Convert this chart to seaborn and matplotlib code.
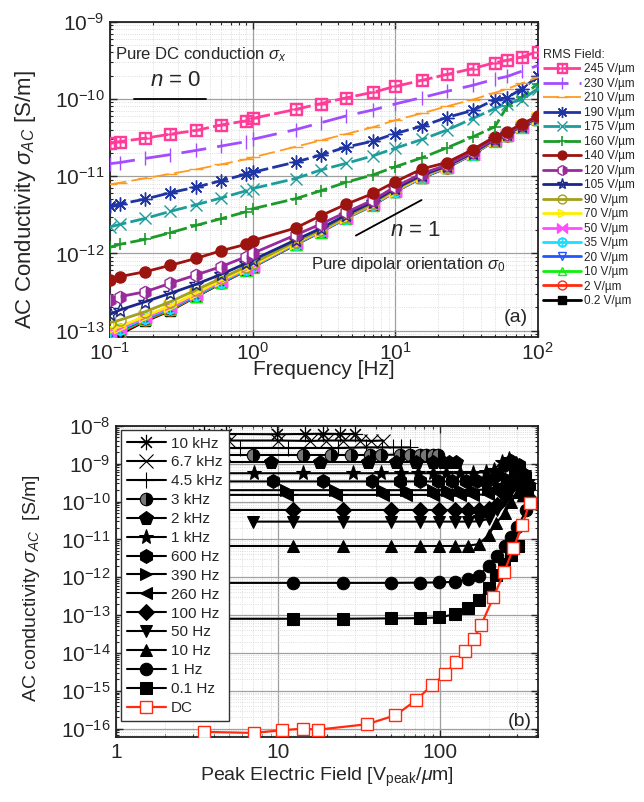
import matplotlib
matplotlib.use("Agg")
import matplotlib.pyplot as plt
import matplotlib.ticker as mticker
import seaborn as sns

sns.set_style("ticks")
plt.rcParams['font.family'] = ['Liberation Sans', 'DejaVu Sans']
plt.rcParams['mathtext.fontset'] = 'custom'
plt.rcParams['mathtext.rm'] = 'Liberation Sans'
plt.rcParams['mathtext.it'] = 'Liberation Sans:italic'
plt.rcParams['mathtext.bf'] = 'Liberation Sans:bold'

# ---------------- panel (a) data: conductivity vs frequency ----------------
freq_hz = [0.1, 0.117, 0.177, 0.265, 0.4, 0.6, 0.9, 1.0, 2.0, 3.0, 4.5, 7.0, 10.0,
           15.4, 23.0, 35.0, 50.0, 61.0, 78.0, 100.0]
rms_labels = ["245 V/\u00b5m", "230 V/\u00b5m", "210 V/\u00b5m", "190 V/\u00b5m", "175 V/\u00b5m",
              "160 V/\u00b5m", "140 V/\u00b5m", "120 V/\u00b5m", "105 V/\u00b5m", "90 V/\u00b5m",
              "70 V/\u00b5m", "50 V/\u00b5m", "35 V/\u00b5m", "20 V/\u00b5m", "10 V/\u00b5m",
              "2 V/\u00b5m", "0.2 V/\u00b5m"]
sig_245 = [2.7e-11, 2.8e-11, 3.1e-11, 3.5e-11, 3.9e-11, 4.6e-11, 5.2e-11, 5.6e-11, 7.3e-11, 8.7e-11,
           1.03e-10, 1.22e-10, 1.45e-10, 1.74e-10, 2.07e-10, 2.47e-10, 2.95e-10, 3.16e-10, 3.5e-10, 4.1e-10]
sig_230 = [1.45e-11, 1.5e-11, 1.7e-11, 1.9e-11, 2.15e-11, 2.45e-11, 2.8e-11, 3.0e-11, 4.0e-11, 4.9e-11,
           6.0e-11, 7.2e-11, 8.6e-11, 1.04e-10, 1.25e-10, 1.5e-10, 1.8e-10, 1.95e-10, 2.3e-10, 2.7e-10]
sig_210 = [7.8e-12, 8.2e-12, 9.4e-12, 1.07e-11, 1.22e-11, 1.42e-11, 1.65e-11, 1.75e-11, 2.4e-11, 2.9e-11,
           3.5e-11, 4.3e-11, 5.3e-11, 6.5e-11, 8.0e-11, 9.8e-11, 1.2e-10, 1.35e-10, 1.6e-10, 1.9e-10]
sig_190 = [4.1e-12, 4.35e-12, 5.05e-12, 6.1e-12, 7.2e-12, 8.7e-12, 1.06e-11, 1.12e-11, 1.52e-11, 1.87e-11,
           2.37e-11, 2.84e-11, 3.56e-11, 4.43e-11, 5.74e-11, 7.1e-11, 9.8e-11, 1.04e-10, 1.36e-10, 1.96e-10]
sig_175 = [2.2e-12, 2.37e-12, 2.84e-12, 3.5e-12, 4.26e-12, 5.2e-12, 6.46e-12, 6.9e-12, 9.3e-12, 1.2e-11,
           1.46e-11, 1.83e-11, 2.3e-11, 2.98e-11, 3.94e-11, 5.57e-11, 7.5e-11, 8.7e-11, 9.8e-11, 1.36e-10]
sig_160 = [1.2e-12, 1.31e-12, 1.52e-12, 1.85e-12, 2.3e-12, 2.81e-12, 3.46e-12, 3.78e-12, 5.1e-12, 6.46e-12,
           8.3e-12, 1.04e-11, 1.32e-11, 1.73e-11, 2.32e-11, 3.23e-11, 4.35e-11, 8.0e-11, 1.06e-10, 1.58e-10]
sig_140 = [4.5e-13, 5.0e-13, 5.8e-13, 7.0e-13, 8.6e-13, 1.08e-12, 1.31e-12, 1.46e-12, 2.13e-12, 3.07e-12,
           4.3e-12, 5.97e-12, 8.45e-12, 1.24e-11, 1.5e-11, 2.21e-11, 3.23e-11, 3.74e-11, 4.8e-11, 5.97e-11]
sig_120 = [2.5e-13, 2.75e-13, 3.19e-13, 4.1e-13, 5.25e-13, 6.73e-13, 9.06e-13, 1.0e-12, 1.73e-12, 2.39e-12,
           3.39e-12, 4.9e-12, 7.3e-12, 1.08e-11, 1.39e-11, 2.06e-11, 3.07e-11, 3.56e-11, 4.57e-11, 5.85e-11]
sig_105 = [1.63e-13, 1.85e-13, 2.37e-13, 3.04e-13, 3.97e-13, 5.35e-13, 7.43e-13, 8.2e-13, 1.49e-12, 2.1e-12,
           3.13e-12, 4.66e-12, 6.93e-12, 1.03e-11, 1.35e-11, 2.0e-11, 3.0e-11, 3.5e-11, 4.5e-11, 5.7e-11]
sig_90 = [1.27e-13, 1.37e-13, 1.76e-13, 2.37e-13, 3.36e-13, 4.75e-13, 6.73e-13, 7.43e-13, 1.42e-12, 2.0e-12,
          2.98e-12, 4.43e-12, 6.73e-12, 1.01e-11, 1.33e-11, 1.97e-11, 2.95e-11, 3.45e-11, 4.45e-11, 5.6e-11]
sig_70 = [1.05e-13, 1.12e-13, 1.55e-13, 2.1e-13, 3.05e-13, 4.5e-13, 6.4e-13, 7.0e-13, 1.38e-12, 1.97e-12,
          2.93e-12, 4.4e-12, 6.5e-12, 9.9e-12, 1.33e-11, 1.97e-11, 2.93e-11, 3.42e-11, 4.4e-11, 5.6e-11]
sig_50 = [9.8e-14, 1.07e-13, 1.5e-13, 2.0e-13, 2.95e-13, 4.4e-13, 6.3e-13, 6.9e-13, 1.36e-12, 1.95e-12,
          2.9e-12, 4.35e-12, 6.45e-12, 9.8e-12, 1.32e-11, 1.96e-11, 2.92e-11, 3.4e-11, 4.35e-11, 5.55e-11]
sig_35 = [9.4e-14, 1.04e-13, 1.46e-13, 1.97e-13, 2.9e-13, 4.3e-13, 6.2e-13, 6.85e-13, 1.34e-12, 1.93e-12,
          2.88e-12, 4.3e-12, 6.4e-12, 9.7e-12, 1.31e-11, 1.95e-11, 2.9e-11, 3.38e-11, 4.33e-11, 5.55e-11]
sig_20 = [9.0e-14, 1.0e-13, 1.42e-13, 1.93e-13, 2.85e-13, 4.25e-13, 6.15e-13, 6.8e-13, 1.33e-12, 1.92e-12,
          2.87e-12, 4.3e-12, 6.4e-12, 9.7e-12, 1.3e-11, 1.95e-11, 2.9e-11, 3.37e-11, 4.32e-11, 5.5e-11]
sig_10 = [8.7e-14, 9.7e-14, 1.4e-13, 1.9e-13, 2.82e-13, 4.2e-13, 6.1e-13, 6.75e-13, 1.32e-12, 1.91e-12,
          2.85e-12, 4.28e-12, 6.38e-12, 9.65e-12, 1.3e-11, 1.94e-11, 2.88e-11, 3.36e-11, 4.3e-11, 5.5e-11]
sig_2 = [8.4e-14, 9.4e-14, 1.36e-13, 1.85e-13, 2.78e-13, 4.15e-13, 6.05e-13, 6.7e-13, 1.31e-12, 1.9e-12,
         2.84e-12, 4.25e-12, 6.35e-12, 9.6e-12, 1.29e-11, 1.93e-11, 2.87e-11, 3.35e-11, 4.3e-11, 5.45e-11]
sig_02 = [8.0e-14, 9.0e-14, 1.33e-13, 1.82e-13, 2.75e-13, 4.1e-13, 6.0e-13, 6.65e-13, 1.3e-12, 1.89e-12,
          2.83e-12, 4.22e-12, 6.3e-12, 9.55e-12, 1.28e-11, 1.92e-11, 2.86e-11, 3.33e-11, 4.28e-11, 5.4e-11]
sigma_a = [sig_245, sig_230, sig_210, sig_190, sig_175, sig_160, sig_140, sig_120, sig_105,
           sig_90, sig_70, sig_50, sig_35, sig_20, sig_10, sig_2, sig_02]

# guide lines for slopes n=0 and n=1
n0_f = [0.147, 0.47]
n0_s = [1e-10, 1e-10]
n1_f = [5.3, 15.3]
n1_s = [1.7e-12, 4.9e-12]

# ---------------- panel (b) data: conductivity vs peak field ----------------
ac_labels = ["10 kHz", "6.7 kHz", "4.5 kHz", "3 kHz", "2 kHz", "1 kHz", "600 Hz", "390 Hz",
             "260 Hz", "100 Hz", "50 Hz", "10 Hz", "1 Hz", "0.1 Hz"]
e_10k = [3.5, 4.8, 9.8, 14.6, 18.9, 24.0, 29.7]
s_10k = [6.1e-9, 6.1e-9, 6.0e-9, 6.1e-9, 6.2e-9, 6.1e-9, 6.1e-9]
e_6k7 = [3.5, 5.0, 10.0, 15.7, 19.9, 25.1, 31.9, 37.6, 44.4]
s_6k7 = [4.1e-9, 4.1e-9, 4.1e-9, 4.0e-9, 4.1e-9, 4.1e-9, 4.1e-9, 4.0e-9, 4.1e-9]
e_4k5 = [3.5, 5.8, 11.6, 23.4, 35.0, 44.0, 51.0, 57.6, 64.8]
s_4k5 = [2.6e-9, 2.6e-9, 2.6e-9, 2.6e-9, 2.7e-9, 2.7e-9, 2.7e-9, 2.7e-9, 2.7e-9]
e_3k = [3.5, 7.0, 14.3, 21.3, 28.3, 36.7, 43.3, 56.2, 64.8, 74.7, 82.0, 90.0, 97.0]
s_3k = [1.7e-9, 1.7e-9, 1.7e-9, 1.7e-9, 1.7e-9, 1.7e-9, 1.7e-9, 1.75e-9, 1.75e-9, 1.75e-9,
        1.75e-9, 1.75e-9, 1.75e-9]
e_2k = [4.6, 9.1, 18.1, 35.9, 53.6, 71.2, 90.0, 104.0, 114.0, 126.0]
s_2k = [1.1e-9, 1.1e-9, 1.1e-9, 1.1e-9, 1.1e-9, 1.1e-9, 1.1e-9, 1.1e-9, 1.1e-9, 1.1e-9]
e_1k = [3.5, 7.1, 14.3, 29.0, 43.4, 57.6, 73.0, 90.0, 109.0, 132.0, 159.0, 192.0, 215.0, 240.0,
        265.0, 295.0, 330.0, 350.0]
s_1k = [5.6e-10, 5.6e-10, 5.6e-10, 5.6e-10, 5.6e-10, 5.6e-10, 5.6e-10, 5.6e-10, 5.6e-10, 5.6e-10,
        5.7e-10, 6.0e-10, 7.0e-10, 1.1e-9, 1.3e-9, 1.0e-9, 6.0e-10, 3.5e-10]
e_600 = [3.5, 9.3, 18.9, 37.9, 56.2, 74.7, 96.8, 119.0, 145.0, 170.0, 200.0, 225.0, 250.0, 275.0,
         305.0, 335.0, 355.0]
s_600 = [3.4e-10, 3.4e-10, 3.4e-10, 3.4e-10, 3.4e-10, 3.4e-10, 3.4e-10, 3.4e-10, 3.4e-10, 3.5e-10,
         3.7e-10, 5.0e-10, 9.0e-10, 1.2e-9, 9.0e-10, 5.0e-10, 2.5e-10]
e_390 = [3.5, 11.2, 22.5, 44.0, 62.0, 90.0, 111.0, 132.0, 159.0, 197.0, 230.0, 260.0, 290.0,
         320.0, 345.0]
s_390 = [2.0e-10, 2.0e-10, 2.0e-10, 2.0e-10, 2.0e-10, 2.0e-10, 2.0e-10, 2.0e-10, 2.0e-10, 2.1e-10,
         2.6e-10, 4.5e-10, 6.0e-10, 5.0e-10, 2.5e-10]
e_260 = [3.5, 11.3, 22.9, 44.4, 61.8, 90.2, 111.0, 132.0, 159.0, 197.0, 225.0, 255.0, 285.0,
         315.0, 345.0]
s_260 = [1.5e-10, 1.5e-10, 1.5e-10, 1.5e-10, 1.5e-10, 1.5e-10, 1.5e-10, 1.5e-10, 1.5e-10, 1.55e-10,
         1.8e-10, 3.0e-10, 4.0e-10, 3.5e-10, 2.0e-10]
e_100 = [3.5, 12.4, 25.0, 50.0, 75.0, 99.0, 124.0, 148.0, 173.0, 199.0, 225.0, 250.0, 275.0,
         300.0, 330.0, 350.0]
s_100 = [6.0e-11, 6.0e-11, 6.0e-11, 6.0e-11, 6.0e-11, 6.0e-11, 6.0e-11, 6.0e-11, 6.1e-11, 6.3e-11,
         8.0e-11, 1.5e-10, 2.5e-10, 3.0e-10, 2.5e-10, 1.3e-10]
e_50 = [7.0, 12.4, 25.0, 50.0, 75.0, 99.0, 124.0, 148.0, 173.0, 199.0, 224.0, 250.0, 275.0,
        300.0, 330.0]
s_50 = [2.95e-11, 2.95e-11, 2.95e-11, 2.95e-11, 2.95e-11, 2.95e-11, 2.95e-11, 2.95e-11, 3.0e-11,
        3.5e-11, 6.0e-11, 1.1e-10, 2.0e-10, 2.8e-10, 2.5e-10]
e_10 = [3.5, 12.4, 25.0, 50.0, 75.0, 99.0, 124.0, 148.0, 173.0, 199.0, 221.0, 250.0, 274.0, 304.0, 325.0]
s_10 = [6.7e-12, 6.7e-12, 6.7e-12, 6.7e-12, 6.7e-12, 6.7e-12, 6.7e-12, 6.8e-12, 7.5e-12, 1.3e-11,
        2.7e-11, 4.9e-11, 1.0e-10, 1.8e-10, 1.5e-10]
e_1 = [3.5, 12.4, 25.0, 50.0, 75.0, 99.0, 124.0, 148.0, 173.0, 199.0, 224.0, 250.0, 275.0, 300.0, 340.0]
s_1 = [7.1e-13, 7.1e-13, 7.1e-13, 7.1e-13, 7.2e-13, 7.3e-13, 7.6e-13, 8.8e-13, 1.1e-12, 2.0e-12,
       3.6e-12, 6.5e-12, 1.15e-11, 2.1e-11, 6.0e-11]
e_01 = [3.5, 12.4, 25.0, 50.0, 75.0, 99.0, 124.0, 148.0, 173.0, 199.0, 221.0, 247.0, 274.0, 304.0]
s_01 = [8.0e-14, 8.0e-14, 8.0e-14, 8.2e-14, 8.3e-14, 8.7e-14, 1.06e-13, 1.5e-13, 2.44e-13, 5.3e-13,
        1.12e-12, 2.23e-12, 3.87e-12, 6.7e-12]
e_dc = [3.5, 7.1, 10.6, 14.3, 17.7, 35.5, 53.0, 71.0, 89.0, 107.0, 125.0, 143.0, 161.0, 179.0,
        213.0, 249.0, 283.0, 322.0, 356.0]
s_dc = [8.2e-17, 7.7e-17, 9.1e-17, 1.0e-16, 9.4e-17, 1.31e-16, 2.26e-16, 5.6e-16, 1.41e-15, 2.75e-15,
        5.7e-15, 1.14e-14, 2.37e-14, 5.5e-14, 2.93e-13, 1.4e-12, 6.0e-12, 2.36e-11, 9.4e-11]
ac_field = [e_10k, e_6k7, e_4k5, e_3k, e_2k, e_1k, e_600, e_390, e_260, e_100, e_50, e_10, e_1, e_01]
ac_sigma = [s_10k, s_6k7, s_4k5, s_3k, s_2k, s_1k, s_600, s_390, s_260, s_100, s_50, s_10, s_1, s_01]

# tick positions shown on each axis
xticks_a = [0.1, 1, 10, 100]
yticks_a = [1e-13, 1e-12, 1e-11, 1e-10, 1e-9]
xticks_b = [1, 10, 100]
yticks_b = [1e-16, 1e-15, 1e-14, 1e-13, 1e-12, 1e-11, 1e-10, 1e-9, 1e-8]

# ---------------- styles ----------------
dash = (0, (6, 1.5))
style_a = [
    dict(color="#ff3d99", marker="$\\boxplus$", ms=9, ls=dash),
    dict(color="#a24dff", marker="|", ms=10, ls=(0, (9, 4))),
    dict(color="#ff9a1f", marker="_", ms=10, ls=(0, (9, 3)), lw=1.3),
    dict(color="#1f35a3", marker=(8, 2, 0), ms=10, ls=dash, mew=1.0),
    dict(color="#1d9c9c", marker="x", ms=9, ls=dash, mew=1.0),
    dict(color="#1c9a2a", marker="+", ms=9, ls=dash, mew=1.2),
    dict(color="#9c1410", marker="o", ms=8, ls="-", mfc="#9c1410"),
    dict(color="#9a2a9c", marker="h", ms=9, ls="-", mfc="#9a2a9c", fillstyle="right", mfcalt="white"),
    dict(color="#1a2788", marker="*", ms=10, ls="-", mfc="none"),
    dict(color="#a3a01c", marker="o", ms=8, ls="-", mfc="none"),
    dict(color="#ffee00", marker=">", ms=8, ls="-", mfc="none"),
    dict(color="#ff4dff", marker="$\\bowtie$", ms=9, ls="-"),
    dict(color="#19e0ff", marker="$\\oplus$", ms=8, ls="-"),
    dict(color="#2255ff", marker="v", ms=8, ls="-", mfc="none"),
    dict(color="#11ee11", marker="^", ms=8, ls="-", mfc="none"),
    dict(color="#ff2a10", marker="o", ms=8, ls="-", mfc="none"),
    dict(color="#000000", marker="s", ms=7, ls="-", mfc="#000000"),
]
style_b = [
    dict(marker=(8, 2, 0), ms=11, mew=0.8, mfc="none"),
    dict(marker="x", ms=10, mew=0.8, mfc="none"),
    dict(marker="+", ms=11, mew=0.8, mfc="none"),
    dict(marker="o", ms=9, fillstyle="right", mfcalt="#777777"),
    dict(marker="p", ms=10),
    dict(marker="*", ms=11),
    dict(marker="h", ms=10),
    dict(marker=">", ms=9),
    dict(marker="<", ms=9),
    dict(marker="D", ms=8),
    dict(marker="v", ms=9),
    dict(marker="^", ms=9),
    dict(marker="o", ms=9),
    dict(marker="s", ms=8),
]


def style_axes(ax, xt, yt):
    ax.set_xscale("log")
    ax.set_yscale("log")
    ax.grid(which="major", color="#a0a0a0", lw=0.9, ls="-")
    ax.grid(which="minor", color="#d2d2d2", lw=0.6, ls=":")
    ax.set_axisbelow(True)
    ax.tick_params(which="both", direction="in", top=True, right=True, labelsize=15, pad=4)
    ax.tick_params(which="major", length=5, width=1.0)
    ax.tick_params(which="minor", length=2.5, width=0.8)
    for sp in ax.spines.values():
        sp.set_linewidth(1.3)
        sp.set_color("#222222")
    ax.xaxis.set_major_locator(mticker.FixedLocator(xt))
    ax.yaxis.set_major_locator(mticker.FixedLocator(yt))
    ax.xaxis.set_major_formatter(mticker.LogFormatterSciNotation())
    ax.yaxis.set_major_formatter(mticker.LogFormatterSciNotation())
    ax.xaxis.set_minor_locator(mticker.LogLocator(base=10, subs=range(2, 10), numticks=20))
    ax.yaxis.set_minor_locator(mticker.LogLocator(base=10, subs=range(2, 10), numticks=20))
    ax.yaxis.set_minor_formatter(mticker.NullFormatter())
    ax.xaxis.set_minor_formatter(mticker.NullFormatter())


fig = plt.figure(figsize=(6.44, 8.02), dpi=100)
ax1 = fig.add_axes([0.171, 0.580, 0.664, 0.393])
ax2 = fig.add_axes([0.180, 0.081, 0.655, 0.388])

# ---------------- panel (a) ----------------
style_axes(ax1, xticks_a, yticks_a)
for i, (lab, sig, st) in enumerate(zip(rms_labels, sigma_a, style_a)):
    st = dict(st)
    col = st.pop("color")
    st.setdefault("lw", 2.0)
    st.setdefault("mew", 1.0)
    sns.lineplot(x=freq_hz, y=sig, ax=ax1, color=col, mec=col, label=lab,
                 zorder=20 - i, **st)
ax1.plot(n0_f, n0_s, color="black", lw=1.3, zorder=30)
ax1.plot(n1_f, n1_s, color="black", lw=1.3, zorder=30)
ax1.set_xlim(0.1, 100)
ax1.set_ylim(8.3e-14, 1e-9)
ax1.set_xlabel("Frequency [Hz]", fontsize=15)
ax1.set_ylabel(r"AC Conductivity $\sigma_{AC}$ [S/m]", fontsize=16)
ax1.xaxis.set_label_coords(0.5, -0.075)
ax1.yaxis.set_label_coords(-0.168, 0.435)
ax1.text(0.109, 3.7e-10, r"Pure DC conduction $\sigma_x$", fontsize=12, va="center", ha="left")
ax1.text(0.29, 1.75e-10, r"$n$ = 0", fontsize=16, va="center", ha="center")
ax1.text(14, 2.0e-12, r"$n$ = 1", fontsize=16, va="center", ha="center")
ax1.text(2.57, 7.1e-13, r"Pure dipolar orientation $\sigma_0$", fontsize=12, va="center", ha="left")
ax1.text(0.977, 0.06, "(a)", transform=ax1.transAxes, fontsize=14, ha="right", va="center")
h, l = ax1.get_legend_handles_labels()
leg1 = ax1.legend(h, l, loc="upper left", bbox_to_anchor=(0.843, 0.939),
                  bbox_transform=fig.transFigure, frameon=False, fontsize=8.5,
                  title="RMS Field:", title_fontsize=9, alignment="left",
                  handlelength=3.2, handletextpad=0.3, labelspacing=0.21,
                  borderpad=0.0, borderaxespad=0.0, markerscale=0.8)

# ---------------- panel (b) ----------------
style_axes(ax2, xticks_b, yticks_b)
for lab, ef, sg, st in zip(ac_labels, ac_field, ac_sigma, style_b):
    st = dict(st)
    st.setdefault("mfc", "black")
    sns.lineplot(x=ef, y=sg, ax=ax2, color="black", mec="black", lw=1.5,
                 label=lab, zorder=5, **st)
sns.lineplot(x=e_dc, y=s_dc, ax=ax2, color="#ff2a10", lw=1.6, marker="s", ms=8, mfc="white",
             mec="#ff2a10", mew=1.0, label="DC", zorder=10)
ax2.set_xlim(1, 400)
ax2.set_ylim(6e-17, 1e-8)
ax2.xaxis.set_major_formatter(mticker.FuncFormatter(lambda v, p: "{:g}".format(v)))
ax2.set_xlabel(r"Peak Electric Field [V$_{\mathrm{peak}}$/$\mu$m]", fontsize=14)
ax2.set_ylabel(r"AC conductivity $\sigma_{AC}$  [S/m]", fontsize=14)
ax2.xaxis.set_label_coords(0.5, -0.092)
ax2.yaxis.set_label_coords(-0.176, 0.48)
ax2.text(0.985, 0.05, "(b)", transform=ax2.transAxes, fontsize=14, ha="right", va="center")
h, l = ax2.get_legend_handles_labels()
leg2 = ax2.legend(h, l, loc="upper left", fontsize=11, frameon=True, fancybox=False,
                  edgecolor="#333333", framealpha=1.0, handlelength=2.6, handletextpad=0.3,
                  labelspacing=0.32, borderpad=0.4, borderaxespad=0.3)
leg2.get_frame().set_linewidth(1.0)
leg2.set_zorder(50)

fig.savefig("out.png", dpi=100)
